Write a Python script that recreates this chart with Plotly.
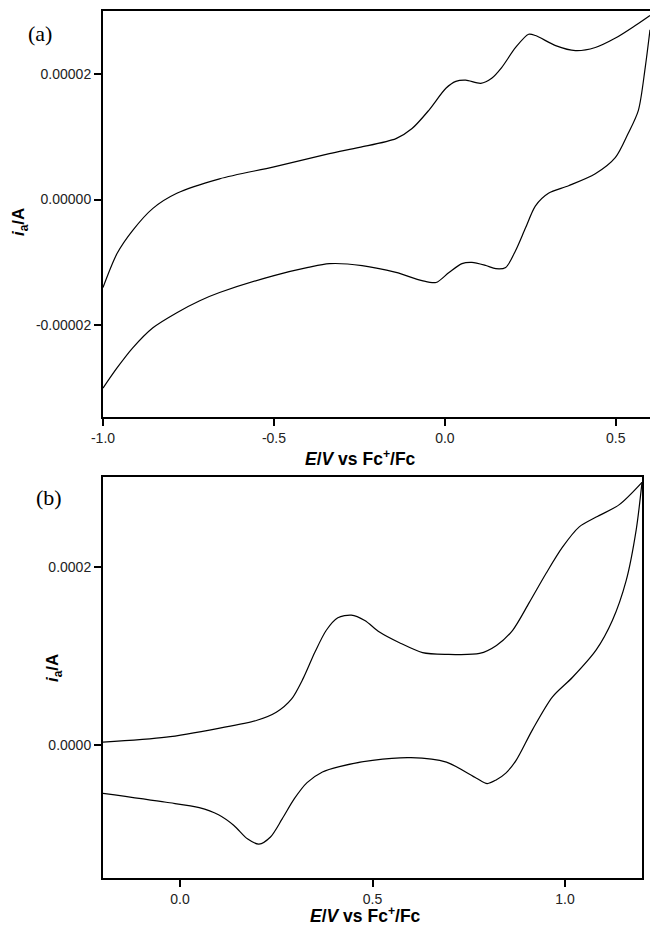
import plotly.graph_objects as go

# ---------------- data: panel (a) ----------------
Ea_fwd = [-1.0, -0.959, -0.913, -0.854, -0.784, -0.659, -0.5, -0.338, -0.25, -0.143, -0.096,
          -0.047, 0.003, 0.032, 0.061, 0.105, 0.137, 0.166, 0.207, 0.245, 0.265, 0.324,
          0.382, 0.440, 0.499, 0.557, 0.6]
ia_fwd = [-1.40, -0.86, -0.49, -0.14, 0.10, 0.33, 0.52, 0.73, 0.83, 0.97, 1.13,
          1.42, 1.77, 1.88, 1.90, 1.85, 1.93, 2.10, 2.42, 2.63, 2.61, 2.45,
          2.37, 2.42, 2.57, 2.77, 2.93]
Ea_rev = [0.6, 0.586, 0.566, 0.536, 0.499, 0.440, 0.362, 0.303, 0.265, 0.236, 0.207,
          0.178, 0.149, 0.120, 0.079, 0.050, 0.012, -0.026, -0.067, -0.143, -0.242,
          -0.338, -0.4, -0.5, -0.659, -0.717, -0.784, -0.854, -0.913, -0.959, -1.0]
ia_rev = [2.70, 2.10, 1.42, 1.05, 0.67, 0.41, 0.22, 0.10, -0.10, -0.45, -0.81,
          -1.08, -1.10, -1.05, -1.00, -1.02, -1.16, -1.32, -1.29, -1.16, -1.05,
          -1.02, -1.08, -1.21, -1.48, -1.61, -1.80, -2.04, -2.36, -2.68, -3.00]
scale_a = 1e-5

# ---------------- data: panel (b) ----------------
Eb_fwd = [-0.2, -0.036, 0.10, 0.20, 0.25, 0.29, 0.32, 0.35, 0.38, 0.41,
          0.445, 0.48, 0.518, 0.570, 0.630, 0.692, 0.778, 0.822, 0.864, 0.907, 0.951,
          0.993, 1.037, 1.081, 1.141, 1.2]
ib_fwd = [0.34, 0.9, 1.9, 2.8, 3.7, 5.2, 7.5, 10.4, 12.9, 14.3,
          14.6, 14.0, 12.7, 11.5, 10.4, 10.2, 10.3, 11.2, 12.9, 16.0, 19.3,
          22.2, 24.5, 25.6, 27.0, 29.5]
Eb_rev = [1.2, 1.185, 1.159, 1.123, 1.081, 1.019, 0.967, 0.915, 0.873, 0.847, 0.821,
          0.798, 0.770, 0.692, 0.60, 0.50, 0.414, 0.37, 0.33, 0.297, 0.265, 0.235,
          0.205, 0.175, 0.14, 0.10, 0.05, -0.036, -0.2]
ib_rev = [29.5, 24.2, 18.5, 14.0, 10.7, 7.6, 5.4, 1.7, -1.7, -3.1, -3.9,
          -4.3, -3.7, -1.9, -1.4, -1.7, -2.4, -3.0, -4.2, -6.0, -8.3, -10.3,
          -11.1, -10.5, -9.0, -7.8, -7.0, -6.4, -5.4]
scale_b = 1e-5

# ---------------- ticks ----------------
xa_ticks = [-1.0, -0.5, 0.0, 0.5]
xa_text = ["-1.0", "-0.5", "0.0", "0.5"]
ya_ticks = [-2e-5, 0.0, 2e-5]
ya_text = ["-0.00002", "0.00000", "0.00002"]
xb_ticks = [0.0, 0.5, 1.0]
xb_text = ["0.0", "0.5", "1.0"]
yb_ticks = [0.0, 2e-4]
yb_text = ["0.0000", "0.0002"]

W, H = 650, 926
FONT = "Liberation Sans, Arial, sans-serif"
line = dict(color="black", width=1.2)

fig = go.Figure()
for xs, ys, sc, xa, ya in [(Ea_fwd, ia_fwd, scale_a, "x", "y"), (Ea_rev, ia_rev, scale_a, "x", "y"),
                           (Eb_fwd, ib_fwd, scale_b, "x2", "y2"), (Eb_rev, ib_rev, scale_b, "x2", "y2")]:
    fig.add_trace(go.Scatter(x=xs, y=[v * sc for v in ys], mode="lines", hoverinfo="skip",
                             line=dict(shape="spline", smoothing=0.8, **line), xaxis=xa, yaxis=ya))

axcommon = dict(showgrid=False, zeroline=False, showline=True, linecolor="black", linewidth=2,
                ticks="outside", ticklen=7, tickwidth=2, tickcolor="black", automargin=False,
                tickfont=dict(family=FONT, size=14, color="#222"))

def px_x(p):
    return p / W

def px_y(p):
    return 1 - p / H

fig.update_layout(
    template="none",
    width=W, height=H, margin=dict(l=0, r=0, t=0, b=0, pad=0), autosize=False,
    paper_bgcolor="white", plot_bgcolor="white", showlegend=False,
    xaxis=dict(domain=[px_x(103), 1.0], range=[-1.0, 0.6], tickvals=xa_ticks, ticktext=xa_text,
               mirror=True, anchor="y", **axcommon),
    yaxis=dict(domain=[px_y(417), px_y(11)], range=[-3.46e-5, 3.0e-5], tickvals=ya_ticks,
               ticktext=ya_text, mirror=False, anchor="x", **axcommon),
    xaxis2=dict(domain=[px_x(103), px_x(642)], range=[-0.2, 1.2], tickvals=xb_ticks, ticktext=xb_text,
                mirror=True, anchor="y2", **axcommon),
    yaxis2=dict(domain=[px_y(878), px_y(477)], range=[-1.49e-4, 3.01e-4], tickvals=yb_ticks,
                ticktext=yb_text, mirror=True, anchor="x2", **axcommon),
)

xtitle = "<b><i>E</i>/<i>V</i> vs Fc<sup>+</sup>/Fc</b>"
ytitle = "<b><i>i</i><sub>a</sub>/A</b>"
ann = [
    dict(x=px_x(360), y=px_y(458), text=xtitle, font=dict(family=FONT, size=17.5, color="black")),
    dict(x=px_x(366), y=px_y(915), text=xtitle, font=dict(family=FONT, size=17.5, color="black")),
    dict(x=px_x(20), y=px_y(222), text=ytitle, textangle=-90, font=dict(family=FONT, size=17, color="black")),
    dict(x=px_x(54), y=px_y(668), text=ytitle, textangle=-90, font=dict(family=FONT, size=17, color="black")),
    dict(x=px_x(40), y=px_y(34), text="(a)", font=dict(family="Liberation Serif, Times New Roman, serif", size=22, color="black")),
    dict(x=px_x(49), y=px_y(498), text="(b)", font=dict(family="Liberation Serif, Times New Roman, serif", size=22, color="black")),
]
for a in ann:
    a.update(xref="paper", yref="paper", showarrow=False, xanchor="center", yanchor="middle")
fig.update_layout(annotations=ann)

fig.write_html("out.html", config={"displayModeBar": False},
               post_script="document.body.style.margin='0';")
